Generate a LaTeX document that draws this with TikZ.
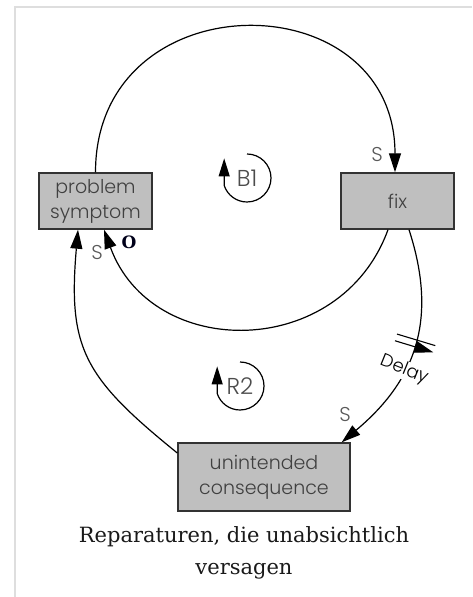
\documentclass[tikz,border=0pt]{standalone}
\usepackage{fontspec}
\setmainfont{DejaVu Serif}
\newfontfamily\gothic{Poppins}[UprightFont=* Light]
\usetikzlibrary{positioning,calc,arrows.meta,decorations.markings}
\tikzset{
  box/.style={draw=black!80, line width=1.4pt, fill=black!25, align=center,
    minimum width=113pt, minimum height=56pt, text=black!75,
    font=\gothic\fontsize{19}{25}\selectfont},
  link/.style={line width=1.2pt, -{Triangle[length=19pt,width=12pt]}},
  pol/.style={text=black!65, font=\gothic\fontsize{20}{20}\selectfont},
  loopname/.style={text=black!70, font=\gothic\fontsize{23}{23}\selectfont},
  looparrow/.style={line width=1.2pt, -{Triangle[length=18pt,width=11pt]}},
  delay/.style={postaction={decorate, decoration={markings,
    mark=at position 0.48 with {\draw[line width=1.1pt] (-3.5pt,-20pt) -- (-3.5pt,20pt)
      (3.5pt,-20pt) -- (3.5pt,20pt);}}}}
}
\begin{document}
\begin{tikzpicture}[x=1pt,y=1pt]
\useasboundingbox (0,0) rectangle (472,597);
\draw[black!13, line width=1.5pt] (15,0) -- (15,590) -- (472,590);
\node[box] (prob) at (95.5,396) {problem\\symptom};
\node[box] (fix) at (397.5,396) {fix};
\node[box, minimum width=172pt, minimum height=68pt] (cons) at (264,120) {unintended\\consequence};
\draw[link] (prob.north) to[out=90,in=90,looseness=1.65] ([xshift=-2.5pt]fix.north);
\draw[link] ([xshift=-9.5pt]fix.south) to[out=-110,in=-70,looseness=1.26] ([xshift=8.5pt]prob.south);
\draw[link] ([yshift=24pt]cons.west) to[out=141,in=-95,looseness=1.25] ([xshift=-17.5pt]prob.south);
\draw[link, delay] ([xshift=11.5pt]fix.south) to[out=-72,in=40,looseness=1.1]
  node[pos=0.615, fill=white, rotate=-22, inner sep=0.5pt, text=black,
    font=\gothic\fontsize{18}{18}\selectfont] (dly) {Delay}
  ([xshift=-9pt]cons.north east);
\node[pol] (s1) at (377,442) {S};
\node[pol] (s2) at (97,344) {S};
\node[pol] (s3) at (345,182) {S};
\node[text=black!90!blue, font=\bfseries\fontsize{17}{17}\selectfont] (o1) at (129,355) {O};
\node[loopname] (b1) at (247,419) {B1};
\draw[looparrow] ($(b1.center)+(90:24pt)$) arc[start angle=90, end angle=-162, radius=24pt] -- ++(0,27);
\node[loopname] (r2) at (240,211) {R2};
\draw[looparrow] ($(r2.center)+(90:24pt)$) arc[start angle=90, end angle=-162, radius=24pt] -- ++(0,27);
\node[anchor=base, text=black!90, font=\fontsize{21}{24}\selectfont] (cap1) at (244,54) {Reparaturen, die unabsichtlich};
\node[anchor=base, text=black!90, font=\fontsize{21}{24}\selectfont] (cap2) at (244,22) {versagen};
\end{tikzpicture}
\end{document}
